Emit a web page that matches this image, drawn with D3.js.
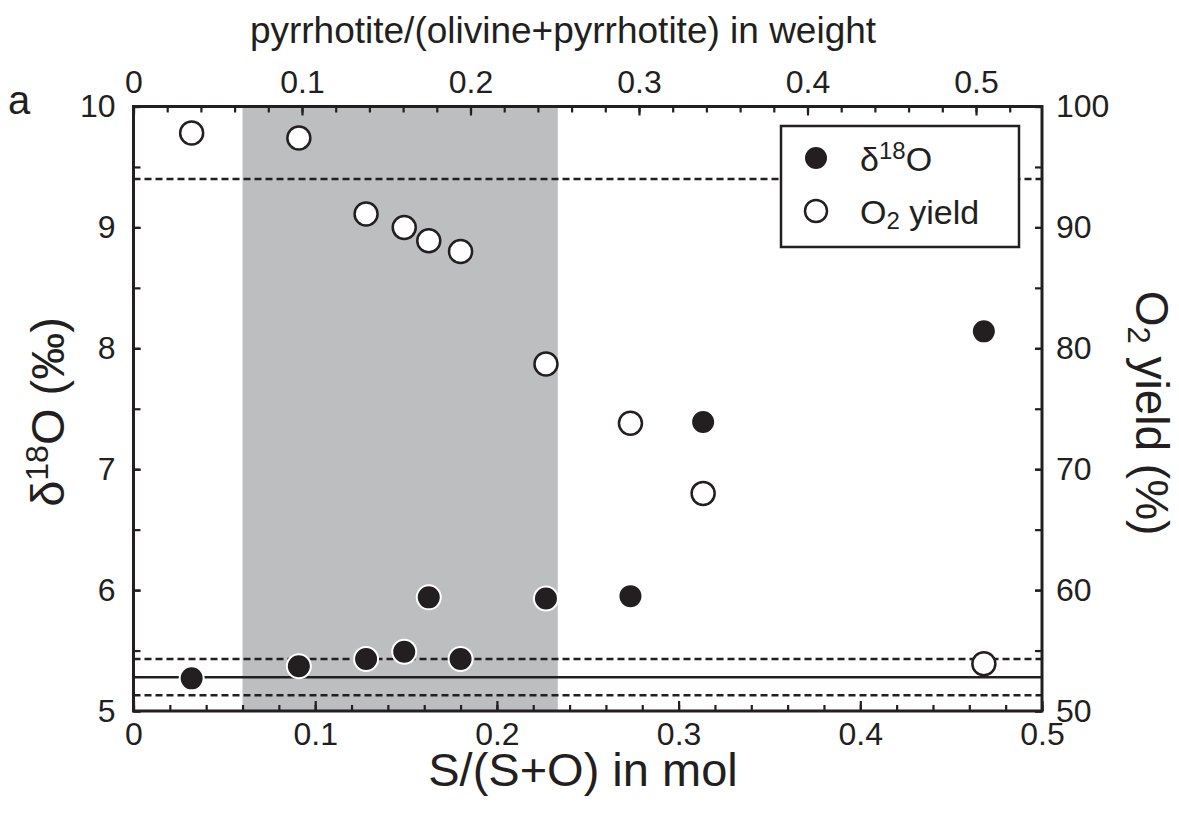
<!DOCTYPE html>
<html>
<head>
<meta charset="utf-8">
<script src="https://cdn.jsdelivr.net/npm/d3@7"></script>
<style>
  body { margin: 0; background: #fff; }
  svg text { font-family: "Liberation Sans", Arial, Helvetica, sans-serif; fill: #231f20; }
</style>
</head>
<body>
<div id="chart"></div>
<script>
// sample composition (mol fraction S/(S+O)), one entry per run
const molFrac = [0.032, 0.091, 0.128, 0.149, 0.1625, 0.180, 0.227, 0.2735, 0.3135, 0.468];
// delta 18O in permil (filled circles)
const d18O = [5.27, 5.37, 5.43, 5.49, 5.94, 5.43, 5.93, 5.95, 7.39, 8.14];
// O2 yield in % (open circles)
const o2Yield = [97.8, 97.4, 91.1, 90.0, 88.9, 88.0, 78.7, 73.8, 68.0, 53.9];

// reference values
const refD18O = [5.13, 5.28, 5.43];   // low, mean, high
const refYield = [94];
const shadeRange = [0.06, 0.2335];

// tick values
const molTicks = [0, 0.1, 0.2, 0.3, 0.4, 0.5];
const weightTicks = [0, 0.1, 0.2, 0.3, 0.4, 0.5];
const d18OTicks = [5, 6, 7, 8, 9, 10];
const yieldTicks = [50, 60, 70, 80, 90, 100];

const width = 1179, height = 814;
const margin = { top: 106.5, right: 137, bottom: 103, left: 133.5 };
const innerWidth = width - margin.left - margin.right;
const innerHeight = height - margin.top - margin.bottom;

const svg = d3.select("#chart").append("svg")
    .attr("width", width)
    .attr("height", height);

const chart = svg.append("g")
    .attr("transform", `translate(${margin.left}, ${margin.top})`);

const x = d3.scaleLinear().domain([0, 0.5]).range([0, innerWidth]);
// weight-fraction scale on top: 0.5 sits at ~842 px from the left axis
const xTop = d3.scaleLinear().domain([0, 0.5]).range([0, 842.5]);
const y = d3.scaleLinear().domain([5, 10]).range([innerHeight, 0]);
const yRight = d3.scaleLinear().domain([50, 100]).range([innerHeight, 0]);

const ink = "#231f20";

// grey band
chart.append("rect")
    .attr("x", x(shadeRange[0]))
    .attr("y", 0)
    .attr("width", x(shadeRange[1]) - x(shadeRange[0]))
    .attr("height", innerHeight)
    .attr("fill", "#bcbec0");

// reference lines
chart.selectAll(".ref-d")
    .data(refD18O)
    .enter().append("line")
    .attr("x1", 0).attr("x2", innerWidth)
    .attr("y1", d => y(d)).attr("y2", d => y(d))
    .attr("stroke", ink)
    .attr("stroke-width", 2.5)
    .attr("stroke-dasharray", (d, i) => i === 1 ? null : "7,4");

chart.selectAll(".ref-y")
    .data(refYield)
    .enter().append("line")
    .attr("x1", 0).attr("x2", innerWidth)
    .attr("y1", d => yRight(d)).attr("y2", d => yRight(d))
    .attr("stroke", ink)
    .attr("stroke-width", 2.5)
    .attr("stroke-dasharray", "7,4");

// axes helpers
function styleAxis(g) {
    g.select(".domain").remove();
    g.selectAll("line").attr("stroke", ink).attr("stroke-width", 2.2);
    g.selectAll("text").attr("font-size", "32px").attr("fill", ink);
}

const minorMol = d3.range(0, 0.5001, 0.02);
const minorWeight = d3.range(0, 0.5401, 0.02).filter(v => xTop(v) <= innerWidth);

// bottom
chart.append("g").attr("transform", `translate(0, ${innerHeight})`)
    .call(d3.axisBottom(x).tickValues(minorMol).tickFormat("").tickSize(-6))
    .call(styleAxis);
chart.append("g").attr("transform", `translate(0, ${innerHeight})`)
    .call(d3.axisBottom(x).tickValues(molTicks).tickFormat(d3.format("")).tickSizeInner(-10).tickSizeOuter(0).tickPadding(11))
    .call(styleAxis);

// top
chart.append("g")
    .call(d3.axisTop(xTop).tickValues(minorWeight).tickFormat("").tickSize(-6))
    .call(styleAxis);
chart.append("g")
    .call(d3.axisTop(xTop).tickValues(weightTicks).tickFormat(d3.format("")).tickSizeInner(-9).tickSizeOuter(0).tickPadding(14))
    .call(styleAxis);

// left
chart.append("g")
    .call(d3.axisLeft(y).tickValues(d3.range(5, 10.01, 0.5)).tickFormat("").tickSize(-7))
    .call(styleAxis);
chart.append("g")
    .call(d3.axisLeft(y).tickValues(d18OTicks).tickFormat(d3.format("d")).tickSizeInner(-7).tickSizeOuter(0).tickPadding(18))
    .call(styleAxis);

// right
chart.append("g").attr("transform", `translate(${innerWidth}, 0)`)
    .call(d3.axisRight(yRight).tickValues(d3.range(50, 100.01, 5)).tickFormat("").tickSize(-7))
    .call(styleAxis);
chart.append("g").attr("transform", `translate(${innerWidth}, 0)`)
    .call(d3.axisRight(yRight).tickValues(yieldTicks).tickFormat(d3.format("d")).tickSizeInner(-7).tickSizeOuter(0).tickPadding(14))
    .call(styleAxis);

// frame
chart.append("rect")
    .attr("width", innerWidth)
    .attr("height", innerHeight)
    .attr("fill", "none")
    .attr("stroke", ink)
    .attr("stroke-width", 3);

// points
const rows = molFrac.map((m, i) => ({ m, d: d18O[i], yld: o2Yield[i] }));

chart.selectAll(".open")
    .data(rows)
    .enter().append("circle")
    .attr("class", "open")
    .attr("cx", r => x(r.m))
    .attr("cy", r => yRight(r.yld))
    .attr("r", 11.5)
    .attr("fill", "#fff")
    .attr("stroke", ink)
    .attr("stroke-width", 2.5);

chart.selectAll(".filled")
    .data(rows)
    .enter().append("circle")
    .attr("class", "filled")
    .attr("cx", r => x(r.m))
    .attr("cy", r => y(r.d))
    .attr("r", 12)
    .attr("fill", ink)
    .attr("stroke", "#fff")
    .attr("stroke-width", 2);

// legend
const legend = svg.append("g").attr("transform", "translate(781, 126)");
legend.append("rect")
    .attr("width", 238).attr("height", 121)
    .attr("fill", "#fff").attr("stroke", ink).attr("stroke-width", 2.5);
legend.append("circle").attr("cx", 35).attr("cy", 32).attr("r", 11).attr("fill", ink);
legend.append("circle").attr("cx", 35).attr("cy", 85).attr("r", 11)
    .attr("fill", "#fff").attr("stroke", ink).attr("stroke-width", 2.5);
const l1 = legend.append("text").attr("x", 79).attr("y", 45).attr("font-size", "34px");
l1.append("tspan").text("δ");
l1.append("tspan").attr("font-size", "24px").attr("dy", -12).text("18");
l1.append("tspan").attr("dy", 12).text("O");
const l2 = legend.append("text").attr("x", 79).attr("y", 98).attr("font-size", "34px");
l2.append("tspan").text("O");
l2.append("tspan").attr("font-size", "24px").attr("dy", 5).text("2");
l2.append("tspan").attr("dy", -5).text(" yield");

// titles
svg.append("text")
    .attr("x", 583).attr("y", 786)
    .attr("text-anchor", "middle")
    .attr("font-size", "47px")
    .text("S/(S+O) in mol");

svg.append("text")
    .attr("x", 563).attr("y", 43)
    .attr("text-anchor", "middle")
    .attr("font-size", "37px")
    .text("pyrrhotite/(olivine+pyrrhotite) in weight");

svg.append("text")
    .attr("x", 8).attr("y", 114)
    .attr("font-size", "40px")
    .text("a");

const yl = svg.append("text")
    .attr("transform", "translate(64, 412) rotate(-90)")
    .attr("text-anchor", "middle")
    .attr("font-size", "47px");
yl.append("tspan").text("δ");
yl.append("tspan").attr("font-size", "32px").attr("dy", -16).text("18");
yl.append("tspan").attr("dy", 16).text("O (‰)");

const yr = svg.append("text")
    .attr("transform", "translate(1136, 413) rotate(90)")
    .attr("text-anchor", "middle")
    .attr("font-size", "46px");
yr.append("tspan").text("O");
yr.append("tspan").attr("font-size", "31px").attr("dy", 8).text("2");
yr.append("tspan").attr("dy", -8).text(" yield (%)");
</script>
</body>
</html>
